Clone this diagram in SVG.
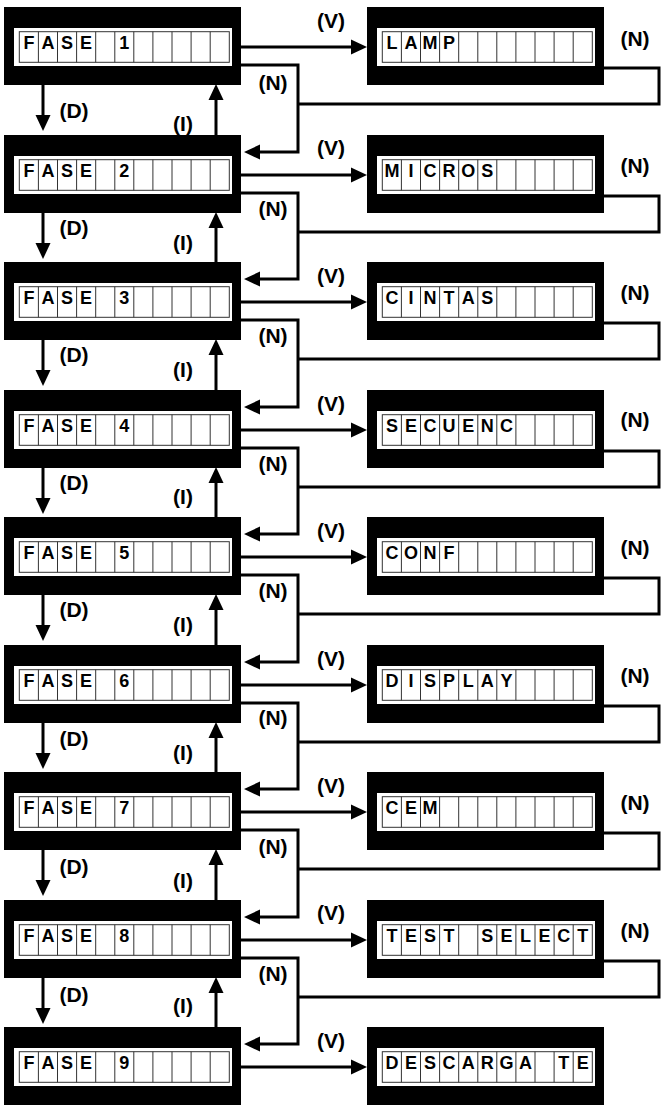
<svg xmlns="http://www.w3.org/2000/svg" xmlns:xlink="http://www.w3.org/1999/xlink" width="668" height="1112" viewBox="0 0 668 1112">
<style>
.c{font-family:"Liberation Sans",Arial,sans-serif;font-weight:bold;font-size:18px;text-anchor:middle;fill:#000}
.l{font-family:"Liberation Sans",Arial,sans-serif;font-weight:bold;font-size:21px;text-anchor:middle;fill:#000}
.w{fill:none;stroke:#000;stroke-width:3;stroke-linejoin:miter}
.a{marker-end:url(#ah)}
</style>
<defs>
<marker id="ah" markerUnits="userSpaceOnUse" markerWidth="16" markerHeight="16" viewBox="0 0 16 16" refX="4" refY="8" orient="auto"><path d="M0,0.5 L16,8 L0,15.5 z" fill="#000"/></marker>
<g id="lcd">
<rect x="0" y="0" width="237" height="78" fill="#000"/>
<rect x="10" y="21" width="218" height="38" fill="#fff"/>
<rect x="15.3" y="24.7" width="210" height="30.6" fill="#fff" stroke="#333" stroke-width="1"/>
<path d="M34.4,24.7V55.3M53.5,24.7V55.3M72.6,24.7V55.3M91.7,24.7V55.3M110.8,24.7V55.3M129.8,24.7V55.3M148.9,24.7V55.3M168,24.7V55.3M187.1,24.7V55.3M206.2,24.7V55.3" stroke="#333" stroke-width="1"/>
</g>
</defs>
<rect width="668" height="1112" fill="#fff"/>

<g id="connectors">
<path class="w a" d="M241,47H355"/>
<path class="w a" d="M241,65H298V152H256"/>
<path class="w" d="M604,68H659V104H298"/>
<path class="w a" d="M43,85V119"/>
<path class="w a" d="M216,135V96"/>

<path class="w a" d="M241,175H355"/>
<path class="w a" d="M241,193H298V279H256"/>
<path class="w" d="M604,196H659V232H298"/>
<path class="w a" d="M43,213V247"/>
<path class="w a" d="M216,262V224"/>

<path class="w a" d="M241,302H355"/>
<path class="w a" d="M241,320H298V407H256"/>
<path class="w" d="M604,323H659V359H298"/>
<path class="w a" d="M43,340V374"/>
<path class="w a" d="M216,390V351"/>

<path class="w a" d="M241,430H355"/>
<path class="w a" d="M241,448H298V534H256"/>
<path class="w" d="M604,451H659V487H298"/>
<path class="w a" d="M43,468V502"/>
<path class="w a" d="M216,517V479"/>

<path class="w a" d="M241,557H355"/>
<path class="w a" d="M241,575H298V662H256"/>
<path class="w" d="M604,578H659V614H298"/>
<path class="w a" d="M43,595V629"/>
<path class="w a" d="M216,645V606"/>

<path class="w a" d="M241,685H355"/>
<path class="w a" d="M241,703H298V789H256"/>
<path class="w" d="M604,706H659V742H298"/>
<path class="w a" d="M43,723V757"/>
<path class="w a" d="M216,772V734"/>

<path class="w a" d="M241,812H355"/>
<path class="w a" d="M241,830H298V917H256"/>
<path class="w" d="M604,833H659V869H298"/>
<path class="w a" d="M43,850V884"/>
<path class="w a" d="M216,900V861"/>

<path class="w a" d="M241,940H355"/>
<path class="w a" d="M241,958H298V1044H256"/>
<path class="w" d="M604,961H659V997H298"/>
<path class="w a" d="M43,978V1012"/>
<path class="w a" d="M216,1027V989"/>

<path class="w a" d="M241,1067H355"/>

<text class="l" x="331" y="28">(V)</text>
<text class="l" x="635" y="46">(N)</text>
<text class="l" x="273" y="90">(N)</text>
<text class="l" x="74" y="118">(D)</text>
<text class="l" x="183" y="131">(I)</text>

<text class="l" x="331" y="155">(V)</text>
<text class="l" x="635" y="173">(N)</text>
<text class="l" x="273" y="216">(N)</text>
<text class="l" x="74" y="235">(D)</text>
<text class="l" x="183" y="250">(I)</text>

<text class="l" x="331" y="283">(V)</text>
<text class="l" x="635" y="300">(N)</text>
<text class="l" x="273" y="343">(N)</text>
<text class="l" x="74" y="362">(D)</text>
<text class="l" x="183" y="377">(I)</text>

<text class="l" x="331" y="411">(V)</text>
<text class="l" x="635" y="427">(N)</text>
<text class="l" x="273" y="471">(N)</text>
<text class="l" x="74" y="490">(D)</text>
<text class="l" x="183" y="504">(I)</text>

<text class="l" x="331" y="538">(V)</text>
<text class="l" x="635" y="555">(N)</text>
<text class="l" x="273" y="598">(N)</text>
<text class="l" x="74" y="617">(D)</text>
<text class="l" x="183" y="632">(I)</text>

<text class="l" x="331" y="666">(V)</text>
<text class="l" x="635" y="683">(N)</text>
<text class="l" x="273" y="725">(N)</text>
<text class="l" x="74" y="746">(D)</text>
<text class="l" x="183" y="760">(I)</text>

<text class="l" x="331" y="793">(V)</text>
<text class="l" x="635" y="810">(N)</text>
<text class="l" x="273" y="854">(N)</text>
<text class="l" x="74" y="874">(D)</text>
<text class="l" x="183" y="888">(I)</text>

<text class="l" x="331" y="920">(V)</text>
<text class="l" x="635" y="938">(N)</text>
<text class="l" x="273" y="981">(N)</text>
<text class="l" x="74" y="1002">(D)</text>
<text class="l" x="183" y="1013">(I)</text>

<text class="l" x="331" y="1048">(V)</text>
</g>

<g id="fase1"><use xlink:href="#lcd" x="4" y="7"/><text class="c" x="28.9 47.9 67 86.1 105.2 124.3" y="49">FASE 1</text></g>
<g id="fase2"><use xlink:href="#lcd" x="4" y="135"/><text class="c" x="28.9 47.9 67 86.1 105.2 124.3" y="177">FASE 2</text></g>
<g id="fase3"><use xlink:href="#lcd" x="4" y="262"/><text class="c" x="28.9 47.9 67 86.1 105.2 124.3" y="304">FASE 3</text></g>
<g id="fase4"><use xlink:href="#lcd" x="4" y="390"/><text class="c" x="28.9 47.9 67 86.1 105.2 124.3" y="432">FASE 4</text></g>
<g id="fase5"><use xlink:href="#lcd" x="4" y="517"/><text class="c" x="28.9 47.9 67 86.1 105.2 124.3" y="559">FASE 5</text></g>
<g id="fase6"><use xlink:href="#lcd" x="4" y="645"/><text class="c" x="28.9 47.9 67 86.1 105.2 124.3" y="687">FASE 6</text></g>
<g id="fase7"><use xlink:href="#lcd" x="4" y="772"/><text class="c" x="28.9 47.9 67 86.1 105.2 124.3" y="814">FASE 7</text></g>
<g id="fase8"><use xlink:href="#lcd" x="4" y="900"/><text class="c" x="28.9 47.9 67 86.1 105.2 124.3" y="942">FASE 8</text></g>
<g id="fase9"><use xlink:href="#lcd" x="4" y="1027"/><text class="c" x="28.9 47.9 67 86.1 105.2 124.3" y="1069">FASE 9</text></g>

<g id="lamp"><use xlink:href="#lcd" x="367" y="7"/><text class="c" x="391.9 410.9 430 449.1" y="49">LAMP</text></g>
<g id="micros"><use xlink:href="#lcd" x="367" y="135"/><text class="c" x="391.9 410.9 430 449.1 468.2 487.3" y="177">MICROS</text></g>
<g id="cintas"><use xlink:href="#lcd" x="367" y="262"/><text class="c" x="391.9 410.9 430 449.1 468.2 487.3" y="304">CINTAS</text></g>
<g id="secuenc"><use xlink:href="#lcd" x="367" y="390"/><text class="c" x="391.9 410.9 430 449.1 468.2 487.3 506.4" y="432">SECUENC</text></g>
<g id="conf"><use xlink:href="#lcd" x="367" y="517"/><text class="c" x="391.9 410.9 430 449.1" y="559">CONF</text></g>
<g id="display"><use xlink:href="#lcd" x="367" y="645"/><text class="c" x="391.9 410.9 430 449.1 468.2 487.3 506.4" y="687">DISPLAY</text></g>
<g id="cem"><use xlink:href="#lcd" x="367" y="772"/><text class="c" x="391.9 410.9 430" y="814">CEM</text></g>
<g id="testselect"><use xlink:href="#lcd" x="367" y="900"/><text class="c" x="391.9 410.9 430 449.1 468.2 487.3 506.4 525.5 544.6 563.7 582.8" y="942">TEST SELECT</text></g>
<g id="descargate"><use xlink:href="#lcd" x="367" y="1027"/><text class="c" x="391.9 410.9 430 449.1 468.2 487.3 506.4 525.5 544.6 563.7 582.8" y="1069">DESCARGA TE</text></g>
</svg>
